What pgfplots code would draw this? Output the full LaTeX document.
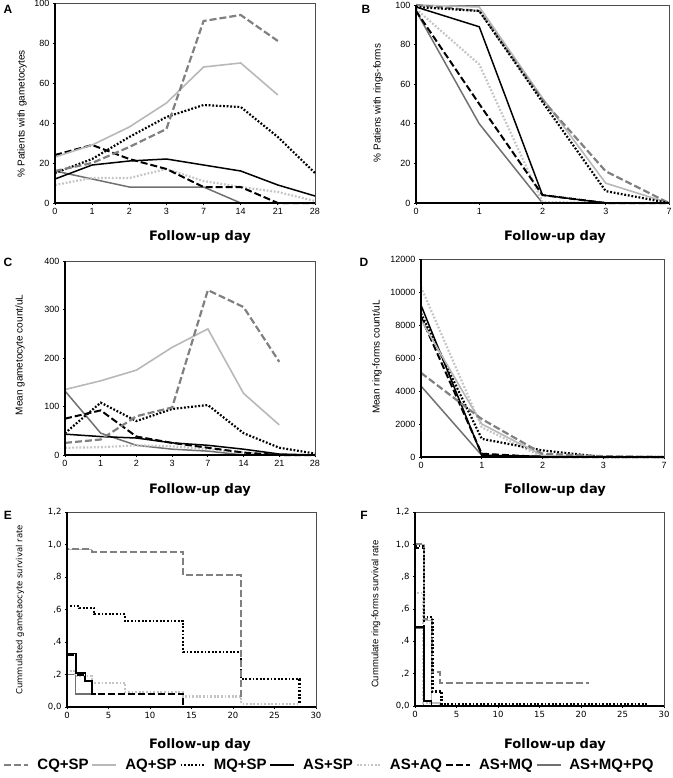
\documentclass[border=0pt]{standalone}
\usepackage{fontspec}
\setmainfont{Liberation Sans}
\newfontfamily\dvs{DejaVu Sans}
\usepackage{pgfplots}
\pgfplotsset{compat=1.18}
\definecolor{cqc}{HTML}{808080}
\definecolor{aqc}{HTML}{B8B8B8}
\definecolor{asaqc}{HTML}{C4C4C4}
\definecolor{pqc}{HTML}{707070}
\tikzset{
 cqsp/.style={cqc, line width=2.2pt, dash pattern=on 7pt off 3pt},
 aqsp/.style={aqc, line width=1.6pt},
 mqsp/.style={black, line width=2.2pt, dash pattern=on 1.8pt off 1.8pt},
 assp/.style={black, line width=1.5pt},
 asaq/.style={asaqc, line width=2.2pt, dash pattern=on 1.8pt off 1.8pt},
 asmq/.style={black, line width=2pt, dash pattern=on 7pt off 3pt},
 asmqpq/.style={pqc, line width=1.5pt},
}
\pgfplotsset{
 panel/.style={scale only axis, clip=false, axis line style={draw=black!70, line width=0.6pt},
  tick pos=left, tick align=outside, major tick length=2pt, tick style={black, line width=0.8pt},
  ticklabel style={font=\fontsize{9}{10}\selectfont},
  /pgf/number format/assume math mode=true, /pgf/number format/1000 sep={},
  every axis plot/.append style={no marks}},
 after end axis/.code={\draw[black, line width=1.4pt] (rel axis cs:0,1) -- (rel axis cs:0,0) -- (rel axis cs:1,0);},
 catA/.style={xmin=0, xmax=7, xtick={0,...,7}, xticklabels={0,1,2,3,7,14,21,28}},
 catB/.style={xmin=0, xmax=4, xtick={0,...,4}, xticklabels={0,1,2,3,7}},
 km/.style={xmin=0, xmax=30, ymin=0, ymax=1.2, xtick={0,5,...,30}, ytick={0,0.2,...,1.2},
  yticklabels={{0,0},{,2},{,4},{,6},{,8},{1,0},{1,2}},
  ticklabel style={font=\dvs\fontsize{8.5}{10}\selectfont}, const plot},
}
\begin{document}
\begin{tikzpicture}
\useasboundingbox (0,0) rectangle (672pt,-778pt);
% ---------- A ----------
\begin{axis}[panel, catA, at={(55pt,-203pt)}, anchor=south west, width=260pt, height=200pt,
 ymin=0, ymax=100, ytick={0,20,...,100}]
\addplot[asmqpq] coordinates {(0,16)(1,12)(2,8)(3,8)(4,8)(5,0)(6,0)(7,0)};
\addplot[asaq] coordinates {(0,9)(1,12.5)(2,12.5)(3,17)(4,11)(5,8)(6,5.5)(7,1)};
\addplot[assp] coordinates {(0,12)(1,19)(2,21)(3,22)(4,19)(5,16)(6,9)(7,3.5)};
\addplot[asmq] coordinates {(0,24)(1,29)(2,22)(3,17)(4,8)(5,8)(6,0)(7,0)};
\addplot[mqsp] coordinates {(0,15)(1,22)(2,33)(3,43)(4,49)(5,48)(6,33)(7,15)};
\addplot[aqsp] coordinates {(0,23)(1,29)(2,38)(3,50)(4,68)(5,70)(6,54)};
\addplot[cqsp] coordinates {(0,16)(1,20)(2,28)(3,37)(4,91)(5,94)(6,81)};
\end{axis}
% ---------- B ----------
\begin{axis}[panel, catB, at={(416pt,-203pt)}, anchor=south west, width=253pt, height=198pt,
 ymin=0, ymax=100, ytick={0,20,...,100}]
\addplot[asmqpq] coordinates {(0,97)(1,40)(2,0)(3,0)(4,0)};
\addplot[asaq] coordinates {(0,98)(1,70)(2,0.5)(3,0)(4,0)};
\addplot[asmq] coordinates {(0,97)(1,50)(2,4)(3,0)(4,0)};
\addplot[assp] coordinates {(0,99)(1,89)(2,4)(3,0)(4,0)};
\addplot[aqsp] coordinates {(0,100)(1,99)(2,53)(3,10)(4,0)};
\addplot[cqsp] coordinates {(0,100)(1,97)(2,52)(3,16)(4,0)};
\addplot[mqsp] coordinates {(0,99)(1,97)(2,51)(3,6)(4,0)};
\end{axis}
% ---------- C ----------
\begin{axis}[panel, catA, at={(65pt,-455pt)}, anchor=south west, width=250pt, height=194pt,
 ymin=0, ymax=400, ytick={0,100,...,400}]
\addplot[asmqpq] coordinates {(0,132)(1,45)(2,20)(3,12)(4,8)(5,0)(6,0)(7,0)};
\addplot[asaq] coordinates {(0,15)(1,16)(2,20)(3,18)(4,12)(5,5)(6,0)(7,0)};
\addplot[assp] coordinates {(0,43)(1,38)(2,35)(3,25)(4,20)(5,12)(6,2)(7,0)};
\addplot[asmq] coordinates {(0,75)(1,92)(2,38)(3,25)(4,15)(5,5)(6,0)(7,0)};
\addplot[mqsp] coordinates {(0,45)(1,108)(2,70)(3,95)(4,103)(5,45)(6,15)(7,3)};
\addplot[aqsp] coordinates {(0,135)(1,153)(2,175)(3,222)(4,260)(5,127)(6,62)};
\addplot[cqsp] coordinates {(0,25)(1,32)(2,80)(3,98)(4,340)(5,305)(6,192)};
\end{axis}
% ---------- D ----------
\begin{axis}[panel, catB, at={(421pt,-457pt)}, anchor=south west, width=243pt, height=198pt,
 ymin=0, ymax=12000, ytick={0,2000,...,12000}, scaled y ticks=false]
\addplot[asmqpq] coordinates {(0,4300)(1,100)(2,0)(3,0)(4,0)};
\addplot[asaq] coordinates {(0,10300)(1,1800)(2,0)(3,0)(4,0)};
\addplot[asmq] coordinates {(0,8500)(1,200)(2,0)(3,0)(4,0)};
\addplot[assp] coordinates {(0,9200)(1,100)(2,50)(3,0)(4,0)};
\addplot[mqsp] coordinates {(0,8700)(1,1100)(2,400)(3,0)(4,0)};
\addplot[aqsp] coordinates {(0,8300)(1,2000)(2,100)(3,20)(4,0)};
\addplot[cqsp] coordinates {(0,5100)(1,2300)(2,200)(3,50)(4,0)};
\end{axis}
% ---------- E ----------
\begin{axis}[panel, km, at={(67pt,-707pt)}, anchor=south west, width=249pt, height=195pt,
 legend columns=7,
 legend style={at={(axis description cs:-0.269,-0.297)}, anchor=west, draw=none, fill=none,
  font=\bfseries\fontsize{15}{16}\selectfont, /tikz/every even column/.append style={column sep=1pt},
  /tikz/every odd column/.append style={column sep=6pt}},
 legend image code/.code={\draw[#1] (0pt,0pt) -- (24pt,0pt);}]
\addlegendimage{cqsp}\addlegendentry{CQ+SP}
\addlegendimage{aqsp}\addlegendentry{AQ+SP}
\addlegendimage{mqsp}\addlegendentry{MQ+SP}
\addlegendimage{assp}\addlegendentry{AS+SP}
\addlegendimage{asaq}\addlegendentry{AS+AQ}
\addlegendimage{asmq}\addlegendentry{AS+MQ}
\addlegendimage{asmqpq}\addlegendentry{AS+MQ+PQ}
\addplot[asmqpq, forget plot] coordinates {(0,1.0)(0,0.2)(1,0.08)(3,0.08)};
\addplot[aqsp, forget plot] coordinates {(0,1.0)(0,0.97)(3,0.97)};
\addplot[asaq, forget plot] coordinates {(0,1.0)(0,0.22)(1,0.19)(3,0.15)(7,0.09)(14,0.065)(21,0.02)(28,0.02)};
\addplot[assp, forget plot] coordinates {(0,1.0)(0,0.33)(1.1,0.21)(2.2,0.16)(3,0.08)(3.5,0.08)};
\addplot[asmq, forget plot] coordinates {(0,1.0)(0,0.32)(1.1,0.2)(2.2,0.16)(3,0.08)(14,0.0)};
\addplot[mqsp, forget plot] coordinates {(0,1.0)(0,0.62)(1.5,0.61)(3.3,0.57)(7,0.53)(14,0.34)(21,0.17)(28,0.02)};
\addplot[cqsp, forget plot] coordinates {(0,1.0)(0,0.97)(3,0.955)(14,0.81)(21,0.06)};
\end{axis}
% ---------- F ----------
\begin{axis}[panel, km, at={(415pt,-706pt)}, anchor=south west, width=249pt, height=194pt]
\addplot[asmqpq] coordinates {(0,1.0)(0,0.48)(1,0.0)(2,0.0)};
\addplot[aqsp] coordinates {(0,1.0)(1.1,0.53)(2,0.02)(3,0.0)};
\addplot[asaq] coordinates {(0,1.0)(0,0.7)(1,0.02)(3,0.0)};
\addplot[assp] coordinates {(0,1.0)(0,0.49)(1.1,0.03)(2,0.0)};
\addplot[asmq] coordinates {(0,1.0)(0,0.98)(1.1,0.0)};
\addplot[cqsp] coordinates {(0,1.0)(1.1,0.54)(2,0.21)(3,0.14)(21,0.14)};
\addplot[mqsp] coordinates {(0,0.99)(1.1,0.55)(2.1,0.09)(3.2,0.01)(28,0.01)};
\end{axis}
% ---------- texts ----------
\begin{scope}[every node/.style={inner sep=0pt}]
\node[rotate=90, font=\fontsize{10}{12}\selectfont] at (22pt,-114pt) {\% Patients with gametocytes};
\node[rotate=90, font=\fontsize{10}{12}\selectfont] at (378pt,-103pt) {\% Patiens with rings-forms};
\node[rotate=90, font=\fontsize{10}{12}\selectfont] at (20pt,-355pt) {Mean gametocyte count/uL};
\node[rotate=90, font=\fontsize{10}{12}\selectfont] at (377pt,-357pt) {Mean ring-forms count/uL};
\node[rotate=90, font=\dvs\fontsize{8.5}{10}\selectfont] at (20pt,-610pt) {Cummulated gametaocyte survival rate};
\node[rotate=90, font=\fontsize{9.5}{11}\selectfont] at (376pt,-614pt) {Cummulate ring-forms survival rate};
\foreach \l/\x/\y in {A/8/9, B/366/9, C/8/262, D/364/262, E/8/515, F/364/515}
  \node[font=\bfseries\fontsize{12}{14}\selectfont] at (\x pt,-\y pt) {\l};
\foreach \x/\y in {200/237, 555/237, 200/490, 555/490, 200/745, 555/745}
  \node[font=\dvs\bfseries\fontsize{13}{15}\selectfont] at (\x pt,-\y pt) {Follow-up day};
\end{scope}
\end{tikzpicture}
\end{document}
